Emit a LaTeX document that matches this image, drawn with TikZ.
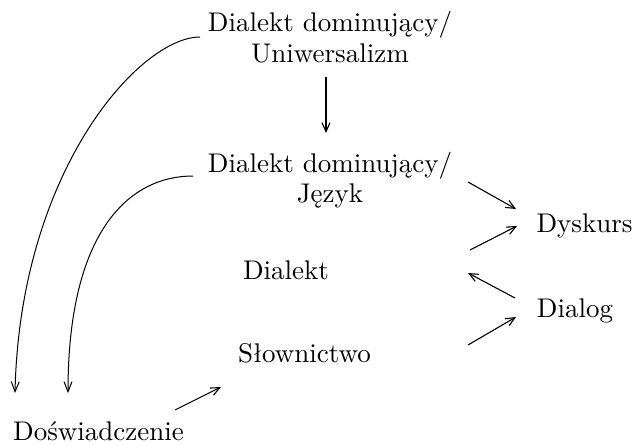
\documentclass[tikz,border=0pt]{standalone}
\usepackage{fontspec}
\setmainfont{lmroman10-regular.otf}
\usetikzlibrary{arrows.meta,calc}
\tikzset{
  lbl/.style={anchor=base, inner sep=0pt, align=center, font=\fontsize{27}{30}\selectfont},
  arr/.style={-{Straight Barb[length=9pt,width=8pt]}, line width=1.1pt},
  longarc/.style={-{Straight Barb[length=10pt,width=8pt]}, line width=1pt},
}
\begin{document}
\begin{tikzpicture}[x=1pt, y=-1pt]
  \useasboundingbox (0,0) rectangle (636,444);

  % labels (base of a two-line label is its last line)
  \node[lbl] (u)    at (330,62)    {Dialekt dominujący/\\Uniwersalizm};
  \node[lbl] (lang) at (330,202)   {Dialekt dominujący/\\Język};
  \node[lbl] (dial) at (286,279)   {Dialekt};
  \node[lbl] (slow) at (304.5,362) {Słownictwo};
  \node[lbl] (dosw) at (98.5,440)  {Doświadczenie};
  \node[lbl] (disc) at (584.5,232) {Dyskurs};
  \node[lbl] (dlg)  at (575,317)   {Dialog};

  % straight connectors
  \draw[arr] ($(u.base)+(-4,15)$) -- ($(lang.base)+(-4,-69)$);
  \draw[arr] ($(lang.base)+(138,-20)$) -- ($(disc.base)+(-68.5,-23)$);
  \draw[arr] ($(dial.base)+(184,-29)$) -- ($(disc.base)+(-67.5,-6)$);
  \draw[arr] ($(dlg.base)+(-60,-19)$) -- ($(dial.base)+(182,-6)$);
  \draw[arr] ($(slow.base)+(163.5,-17)$) -- ($(dlg.base)+(-59,0)$);
  \draw[arr] ($(dosw.base)+(76.5,-30)$) -- ($(slow.base)+(-83.5,25)$);

  % long curved connectors down to Doświadczenie
  \draw[longarc] ($(u.base)+(-130,-25)$) .. controls +(-60,0) and +(5,-223) .. ($(dosw.base)+(-83.5,-47)$);
  \draw[longarc] ($(lang.base)+(-137,-26)$) .. controls +(-63,0) and +(0,-163) .. ($(dosw.base)+(-30.5,-47)$);
\end{tikzpicture}
\end{document}
